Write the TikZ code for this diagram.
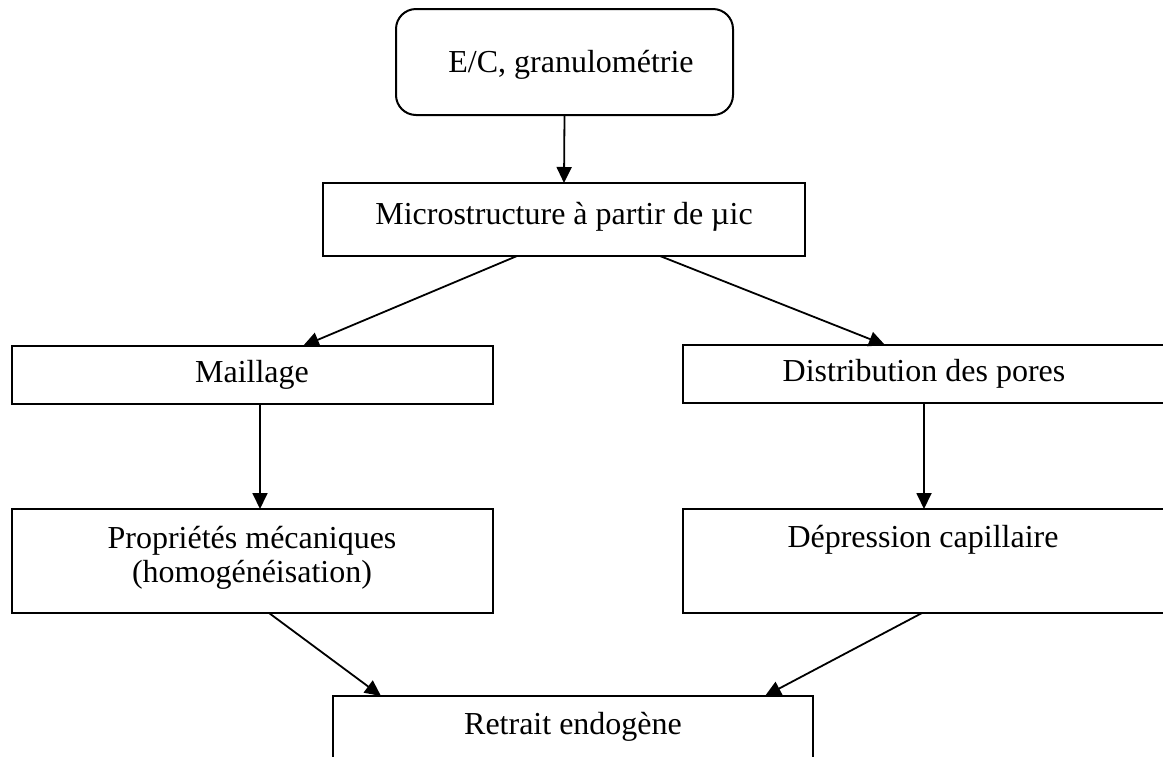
\documentclass[tikz,border=0pt]{standalone}
\usepackage{fontspec}
\setmainfont{Liberation Serif}
\usetikzlibrary{arrows.meta}
\begin{document}
\begin{tikzpicture}[x=1pt,y=-1pt,
  box/.style={draw=black,line width=2pt,rectangle,inner sep=0pt,outer sep=0pt},
  roundbox/.style={box,rounded corners=20pt},
  txt/.style={inner sep=0pt,align=center,font=\fontsize{32}{34}\selectfont},
  arr/.style={line width=1.8pt,-{Triangle[length=16pt,width=15pt]}}]
\useasboundingbox (0,0) rectangle (1163,756);
\clip (0,0) rectangle (1163,756);
\fill[white] (0,0) rectangle (1163,756);

% boxes
\node[roundbox,minimum width=337pt,minimum height=106pt] (top) at (564.5,62) {};
\node[box,minimum width=482pt,minimum height=73pt] (micro) at (564,219.5) {};
\node[box,minimum width=481pt,minimum height=58pt] (maill) at (252.5,375) {};
\node[box,minimum width=482pt,minimum height=58pt] (distr) at (924,374) {};
\node[box,minimum width=481pt,minimum height=104pt] (prop) at (252.5,561) {};
\node[box,minimum width=482pt,minimum height=104pt] (dep) at (924,561) {};
\node[box,minimum width=480pt,minimum height=110pt] (retr) at (573,751) {};

% texts
\node[txt] (topT) at (571,65) {E/C, granulométrie};
\node[txt] (microT) at (564,217) {Microstructure à partir de µic};
\node[txt] (maillT) at (252,375) {Maillage};
\node[txt] (distrT) at (924,374) {Distribution des pores};
\node[txt] (propT) at (252,558) {Propriétés mécaniques\\(homogénéisation)};
\node[txt] (depT) at (923,540) {Dépression capillaire};
\node[txt] (retrT) at (573,727) {Retrait endogène};

% connectors
\draw[arr] (top.south) -- (micro.north);
\draw[arr] ([xshift=-47pt]micro.south) -- ([xshift=50.5pt]maill.north);
\draw[arr] ([xshift=96pt]micro.south) -- ([xshift=-39pt]distr.north);
\draw[arr] ([xshift=7.5pt]maill.south) -- ([xshift=7.5pt]prop.north);
\draw[arr] (distr.south) -- (dep.north);
\draw[arr] ([xshift=16.5pt]prop.south) -- ([xshift=-192pt]retr.north);
\draw[arr] ([xshift=-2pt]dep.south) -- ([xshift=192pt]retr.north);
\end{tikzpicture}
\end{document}
